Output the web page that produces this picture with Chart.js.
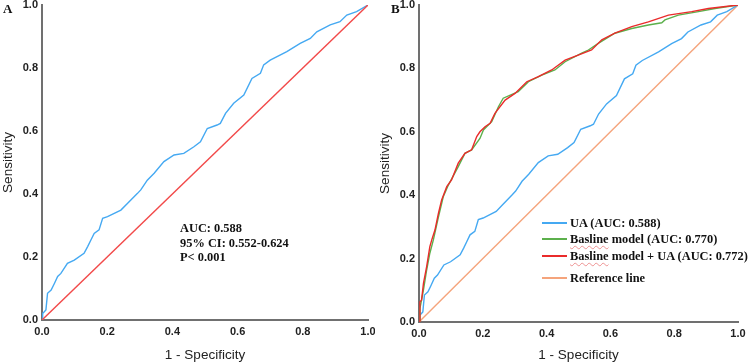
<!DOCTYPE html>
<html>
<head>
<meta charset="utf-8">
<script src="https://cdn.jsdelivr.net/npm/chart.js@4/dist/chart.umd.min.js"></script>
<style>
  body { margin: 0; background: #fff; }
  #wrap { position: relative; width: 750px; height: 364px; overflow: hidden; }
  canvas { position: absolute; top: 0; }
  .serif { position: absolute; font-family: 'Liberation Serif', 'Times New Roman', serif; font-weight: bold; color: #111; white-space: nowrap; }
  .panel { font-size: 13px; line-height: 13px; }
  .note { font-size: 12.4px; line-height: 14.5px; }
  .key { position: absolute; height: 2px; width: 25px; }
  .typo { text-decoration: underline wavy rgba(225, 70, 70, 0.55); text-decoration-thickness: 1px; text-underline-offset: 2px; }
</style>
</head>
<body>
<div id="wrap">
  <canvas id="rocA" width="375" height="364" style="left:0"></canvas>
  <canvas id="rocB" width="375" height="364" style="left:375px"></canvas>

  <div class="serif panel" style="left:3px; top:2px">A</div>
  <div class="serif panel" style="left:391px; top:2px">B</div>

  <div class="serif note" style="left:180px; top:221px">AUC: 0.588<br>95% CI: 0.552-0.624<br>P&lt; 0.001</div>

  <div class="key" style="left:542px; top:222px; background:#45a9f2"></div>
  <div class="serif note" style="left:570px; top:216px">UA (AUC: 0.588)</div>
  <div class="key" style="left:542px; top:238px; background:#5cb04c"></div>
  <div class="serif note" style="left:570px; top:232px"><span class="typo">Basline</span> model (AUC: 0.770)</div>
  <div class="key" style="left:542px; top:255px; background:#ea2b2b"></div>
  <div class="serif note" style="left:570px; top:249px"><span class="typo">Basline</span> model + UA (AUC: 0.772)</div>
  <div class="key" style="left:542px; top:277px; background:#f5a47c"></div>
  <div class="serif note" style="left:570px; top:271px">Reference line</div>
</div>

<script>
// UA alone (same curve in both panels)
const uaFpr = [0, 0.002, 0.007, 0.012, 0.017, 0.028, 0.038, 0.048, 0.058, 0.078, 0.099, 0.129, 0.14, 0.15, 0.16, 0.175,
  0.186, 0.201, 0.242, 0.262, 0.293, 0.303, 0.323, 0.344, 0.374, 0.405, 0.435, 0.466, 0.486, 0.507, 0.537, 0.547,
  0.563, 0.588, 0.619, 0.644, 0.67, 0.68, 0.7, 0.751, 0.792, 0.823, 0.843, 0.884, 0.914, 0.935, 0.965, 1];
const uaTpr = [0, 0.021, 0.026, 0.032, 0.085, 0.095, 0.116, 0.138, 0.148, 0.18, 0.19, 0.212, 0.233, 0.254, 0.275, 0.286,
  0.323, 0.328, 0.349, 0.37, 0.402, 0.413, 0.444, 0.466, 0.503, 0.524, 0.529, 0.55, 0.566, 0.608, 0.619, 0.624,
  0.656, 0.688, 0.714, 0.767, 0.783, 0.81, 0.825, 0.852, 0.878, 0.894, 0.915, 0.937, 0.947, 0.968, 0.979, 1];

// Basline model
const baseFpr = [0, 0.003, 0.014, 0.024, 0.034, 0.045, 0.061, 0.076, 0.092, 0.123, 0.144, 0.165, 0.191, 0.202, 0.212,
  0.228, 0.249, 0.264, 0.311, 0.343, 0.385, 0.426, 0.458, 0.51, 0.531, 0.562, 0.614, 0.667, 0.719, 0.761, 0.771,
  0.813, 0.876, 0.928, 1];
const baseTpr = [0, 0.043, 0.101, 0.164, 0.217, 0.259, 0.332, 0.395, 0.432, 0.49, 0.532, 0.543, 0.579, 0.606, 0.616,
  0.632, 0.679, 0.706, 0.727, 0.758, 0.779, 0.795, 0.821, 0.848, 0.858, 0.879, 0.911, 0.926, 0.937, 0.944, 0.953,
  0.968, 0.979, 0.989, 1];

// Basline model + UA
const comboFpr = [0, 0.003, 0.008, 0.014, 0.024, 0.034, 0.04, 0.05, 0.061, 0.071, 0.087, 0.102, 0.123, 0.144, 0.165,
  0.181, 0.191, 0.207, 0.223, 0.238, 0.27, 0.301, 0.338, 0.374, 0.416, 0.458, 0.499, 0.541, 0.573, 0.614, 0.667,
  0.719, 0.782, 0.855, 0.907, 1];
const comboTpr = [0, 0.064, 0.069, 0.122, 0.175, 0.238, 0.259, 0.29, 0.343, 0.385, 0.427, 0.448, 0.501, 0.532, 0.543,
  0.585, 0.6, 0.616, 0.627, 0.658, 0.7, 0.721, 0.758, 0.774, 0.795, 0.826, 0.842, 0.858, 0.89, 0.911, 0.932,
  0.947, 0.968, 0.979, 0.989, 1];

const refFpr = [0, 1];
const refTpr = [0, 1];

const tickValues = [0, 0.2, 0.4, 0.6, 0.8, 1];

const toPoints = (xs, ys) => xs.map((x, i) => ({ x: x, y: ys[i] }));

const tickFont = { family: "'Liberation Sans', Arial, sans-serif", size: 11, weight: 'bold' };
const titleFont = { family: "'Liberation Sans', Arial, sans-serif", size: 13.5 };

const makeAxis = (isX, size, titleText, titlePad) => ({
  type: 'linear',
  min: 0,
  max: 1,
  afterBuildTicks: (scale) => {
    scale.ticks = tickValues.map((v) => ({ value: v }));
  },
  afterFit: (scale) => {
    if (isX) scale.height = size;
    else scale.width = size;
    scale.paddingTop = 0;
    scale.paddingBottom = 0;
    scale.paddingLeft = 0;
    scale.paddingRight = 0;
  },
  grid: { display: false, drawTicks: false },
  border: { display: true, color: '#707070', width: 2 },
  ticks: {
    padding: isX ? 5 : 4,
    color: '#222',
    font: tickFont,
    maxRotation: 0,
    autoSkip: false,
    callback: (v) => Number(v).toFixed(1),
  },
  title: {
    display: true,
    text: titleText,
    color: '#222',
    font: titleFont,
    padding: titlePad,
  },
});

const makeLine = (xs, ys, color, order) => ({
  data: toPoints(xs, ys),
  borderColor: color,
  borderWidth: 1.4,
  pointRadius: 0,
  showLine: true,
  tension: 0,
  order: order,
});

const drawRoc = (id, datasets, box) => {
  const ctx = document.getElementById(id).getContext('2d');
  return new Chart(ctx, {
    type: 'scatter',
    data: { datasets: datasets },
    options: {
      responsive: false,
      animation: false,
      layout: { padding: { top: box.top, right: box.right, bottom: 0, left: 0 } },
      plugins: { legend: { display: false }, tooltip: { enabled: false } },
      scales: {
        x: makeAxis(true, box.xHeight, '1 - Specificity', { top: 0, bottom: 1 }),
        y: makeAxis(false, box.yWidth, 'Sensitivity', { top: box.yTitlePad, bottom: 0 }),
      },
    },
  });
};

drawRoc('rocA', [
  makeLine(uaFpr, uaTpr, '#45a9f2', 2),
  makeLine(refFpr, refTpr, '#f24a4a', 1),
], { top: 5, right: 7, xHeight: 44, yWidth: 42, yTitlePad: 0 });

drawRoc('rocB', [
  makeLine(comboFpr, comboTpr, '#ea2b2b', 1),
  makeLine(baseFpr, baseTpr, '#5cb04c', 2),
  makeLine(uaFpr, uaTpr, '#45a9f2', 3),
  makeLine(refFpr, refTpr, '#f5a47c', 4),
], { top: 5, right: 12, xHeight: 42, yWidth: 44, yTitlePad: 2 });
</script>
</body>
</html>
